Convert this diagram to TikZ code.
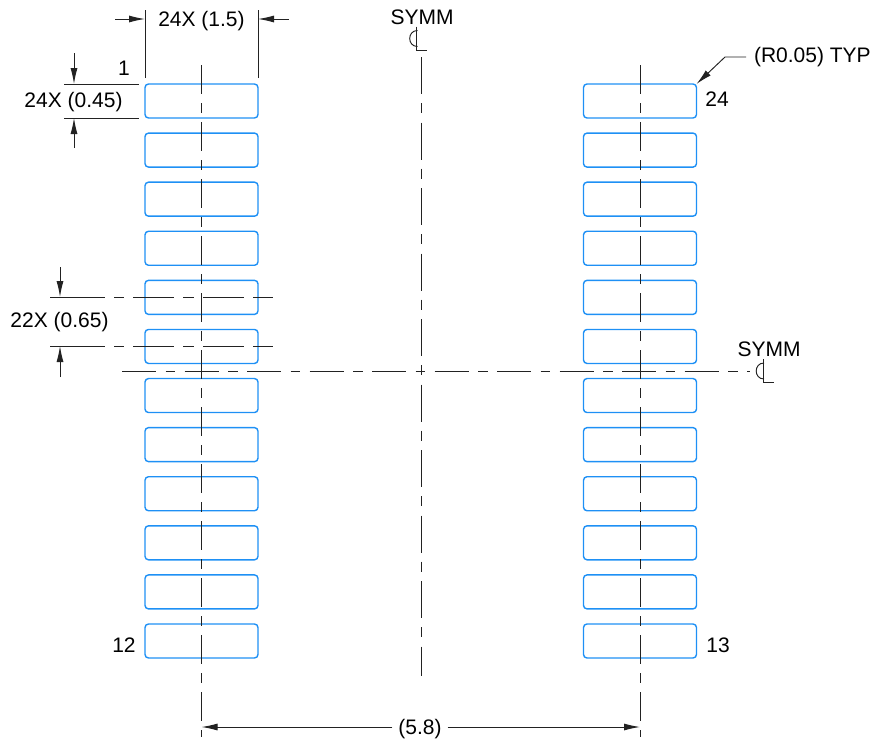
\documentclass[tikz,border=0pt]{standalone}
\usepackage{fontspec}
\setmainfont{Liberation Sans}
\usetikzlibrary{arrows.meta}
\definecolor{padblue}{HTML}{1E90F5}
\definecolor{inkline}{HTML}{222222}
\tikzset{
  pad/.style={draw=padblue,line width=1.4pt,rounded corners=3.5pt,minimum width=113pt,minimum height=34pt,inner sep=0pt,outer sep=0pt},
  ink/.style={draw=inkline,line width=0.95pt},
  lbl/.style={inner sep=0pt,outer sep=0pt,text=black,font=\fontsize{21}{24}\selectfont},
  padcl/.style={ink,dash pattern=on 28.5pt off 9.5pt on 9.5pt off 9.5pt},
  midcl/.style={ink,dash pattern=on 37pt off 9.2pt on 10pt off 9.3pt},
  horcl/.style={ink,dash pattern=on 34pt off 9.5pt on 9.5pt off 9.5pt},
  pitchcl/.style={ink,dash pattern=on 55pt off 9pt on 10pt off 9pt on 41pt off 9pt on 11pt off 9pt on 41pt off 9pt on 20pt},
  dimarrow/.style={ink,-{Latex[length=16pt,width=7pt]}},
}
\newcommand{\clmark}[2]{%
  \draw[ink] (#1,#2-12) -- (#1,#2+11.5) -- (#1+10.5,#2+11.5);
  \draw[ink] (#1+1,#2-8) .. controls (#1-9.4,#2-8) and (#1-9.4,#2+8) .. (#1+1,#2+8);
}
\begin{document}
\begin{tikzpicture}[x=1pt,y=-1pt]
\useasboundingbox (0,0) rectangle (873,742);
% pads
\foreach \i in {1,...,12}{
  \pgfmathsetmacro{\py}{101+49.09*(\i-1)}
  \node[pad] (L\i) at (201.5,\py) {};
  \node[pad] (R\i) at (640,\py) {};
}
% centre-lines
\coordinate (ltop) at (201.5,65);
\coordinate (lbot) at (201.5,737);
\coordinate (rtop) at (640,65);
\coordinate (rbot) at (640,737);
\coordinate (mtop) at (421,57);
\coordinate (mbot) at (421,676);
\coordinate (hl) at (122,371);
\coordinate (hr) at (750,371);
\draw[padcl] (ltop) -- (lbot);
\draw[padcl] (rtop) -- (rbot);
\draw[midcl] (mtop) -- (mbot);
\draw[horcl] (hl) -- (hr);
% symmetry marks
\node[lbl] (symmtop) at (422,17) {SYMM};
\clmark{416.5}{38.5}
\node[lbl] (symmright) at (769,349) {SYMM};
\clmark{763}{371}
% width dimension
\node[lbl] (w) at (201.5,21) {24X (1.5)};
\coordinate (wl) at (L1.north west);
\coordinate (wr) at (L1.north east);
\draw[ink] ([yshift=6pt]wl) -- ++(0,-68);
\draw[ink] ([yshift=6pt]wr) -- ++(0,-68);
\coordinate (wlo) at (115,19);
\coordinate (wlt) at (145,19);
\coordinate (wro) at (289,19);
\coordinate (wrt) at (258,19);
\draw[dimarrow] (wlo) -- (wlt);
\draw[dimarrow] (wro) -- (wrt);
% height dimension
\node[lbl] (h) at (73.5,102) {24X (0.45)};
\node[lbl] (n1) at (124,68) {1};
\draw[ink] (64,84) -- ([xshift=-6pt]L1.north west);
\draw[ink] (64,118) -- ([xshift=-6pt]L1.south west);
\coordinate (hta) at (74,53);
\coordinate (htb) at (74,84);
\coordinate (hba) at (74,148);
\coordinate (hbb) at (74,118);
\draw[dimarrow] (hta) -- (htb);
\draw[dimarrow] (hba) -- (hbb);
% pitch dimension
\node[lbl] (p) at (59.5,322) {22X (0.65)};
\coordinate (p1a) at (50,297);
\coordinate (p1b) at (273,297);
\coordinate (p2a) at (50,346);
\coordinate (p2b) at (273,346);
\draw[pitchcl] (p1a) -- (p1b);
\draw[pitchcl] (p2a) -- (p2b);
\coordinate (pta) at (60,267);
\coordinate (ptb) at (60,297);
\coordinate (pba) at (60,377);
\coordinate (pbb) at (60,346);
\draw[dimarrow] (pta) -- (ptb);
\draw[dimarrow] (pba) -- (pbb);
% pin labels
\node[lbl] (n24) at (717,99) {24};
\node[lbl] (n12) at (124,645) {12};
\node[lbl] (n13) at (718,645) {13};
% radius leader
\node[lbl,anchor=west] (rad) at (754,57) {(R0.05) TYP};
\coordinate (radk) at (725,57);
\draw[dimarrow] (746,57) -- (radk) -- (R1.north east);
% span dimension
\node[lbl] (span) at (420,729) {(5.8)};
\coordinate (sl) at (201.5,727);
\coordinate (sr) at (640,727);
\draw[dimarrow] (span.west |- sl) ++(-6,0) -- (sl);
\draw[dimarrow] (span.east |- sr) ++(6,0) -- (sr);
\end{tikzpicture}
\end{document}
